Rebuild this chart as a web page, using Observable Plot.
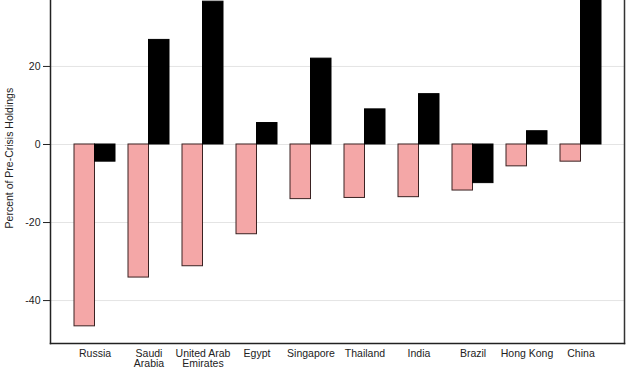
<!DOCTYPE html>
<html>
<head>
<meta charset="utf-8">
<script src="https://cdn.jsdelivr.net/npm/d3@7"></script>
<script src="https://cdn.jsdelivr.net/npm/@observablehq/plot@0.6"></script>
<style>
  html, body { margin: 0; padding: 0; background: #fff; }
  #chart svg { display: block; }
</style>
</head>
<body>
<div id="chart"></div>
<script>
const countries = ["Russia", "Saudi\nArabia", "United Arab\nEmirates", "Egypt", "Singapore", "Thailand", "India", "Brazil", "Hong Kong", "China"];
const crisisChange = [-46.6, -34.1, -31.2, -23.0, -14.0, -13.7, -13.5, -11.8, -5.6, -4.4];
const laterChange = [-4.4, 26.8, 36.6, 5.5, 22.0, 9.0, 12.9, -9.9, 3.4, 45.0];
const yTicks = [20, 0, -20, -40];

const pinkData = countries.map((c, i) => ({country: c, value: crisisChange[i]}));
const blackData = countries.map((c, i) => ({country: c, value: laterChange[i]}));

const chart = Plot.plot({
  width: 640,
  height: 379,
  marginTop: 0,
  marginLeft: 50,
  marginRight: 16,
  marginBottom: 36,
  style: {fontFamily: "Liberation Sans, Arial, sans-serif", fontSize: "10.5px", color: "#222", background: "#fff"},
  x: {domain: countries, paddingInner: 0.246, paddingOuter: 0.395, label: null},
  y: {domain: [-51, 36.9], label: null},
  marks: [
    Plot.ruleY(yTicks, {stroke: "#e4e4e4", strokeWidth: 1}),
    Plot.barY(pinkData, {x: "country", y: "value", fill: "#f4a7a7", stroke: "#3a2222", strokeWidth: 1, insetRight: 20.5, insetLeft: 0}),
    Plot.barY(blackData, {x: "country", y: "value", fill: "#000", stroke: "#000", strokeWidth: 1, insetLeft: 20.5, insetRight: 0}),
    Plot.frame({anchor: "left", stroke: "#222", strokeWidth: 1.5}),
    Plot.frame({anchor: "right", stroke: "#333", strokeWidth: 1.5}),
    Plot.frame({anchor: "bottom", stroke: "#222", strokeWidth: 1.5}),
    Plot.axisY({ticks: yTicks, tickSize: 7, tickPadding: 3, tickFormat: d => String(d), fontSize: 10.5, label: null}),
    Plot.axisX({tickSize: 0, tickPadding: 6, fontSize: 10.5, lineHeight: 1.0, label: null}),
    Plot.text(["Percent of Pre-Crisis Holdings"], {y: [-3.5], frameAnchor: "left", textAnchor: "middle", dx: -41, rotate: -90, fontSize: 10.5, fill: "#222"})
  ]
});
document.getElementById("chart").appendChild(chart);
</script>
</body>
</html>
